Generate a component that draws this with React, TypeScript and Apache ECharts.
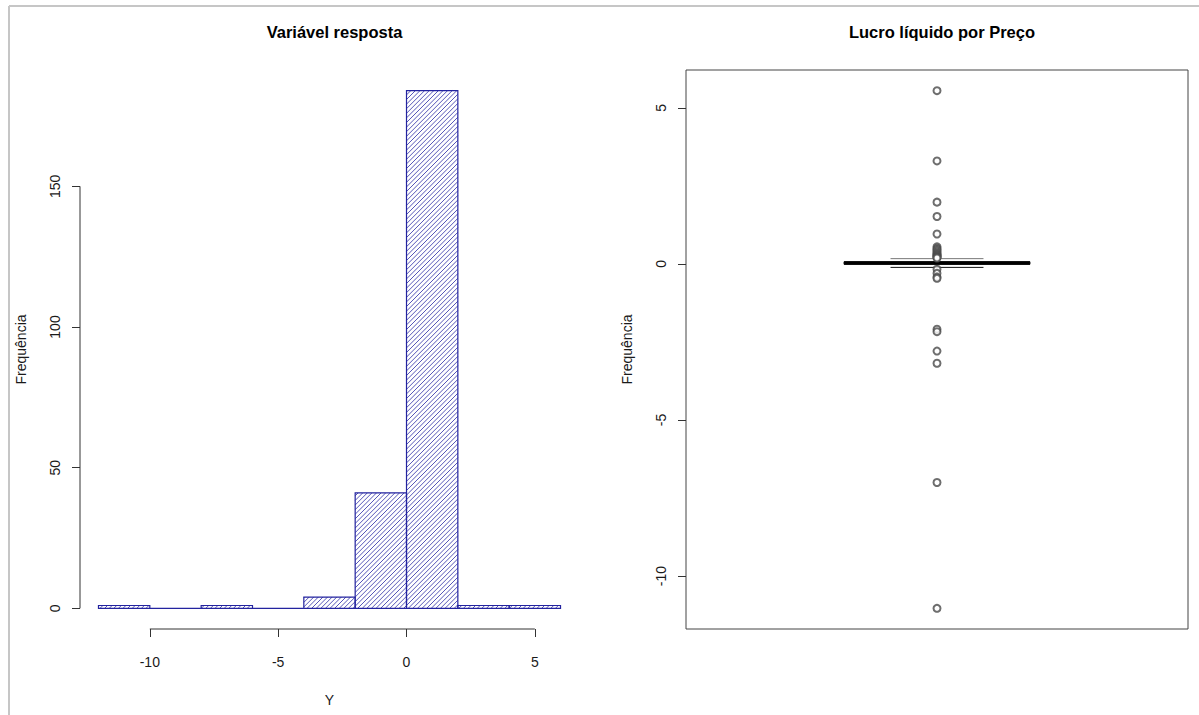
import React, { useEffect, useRef } from "react";
import * as echarts from "echarts";

// ---------- data ----------
const binStarts = [-12, -10, -8, -6, -4, -2, 0, 2, 4];
const binWidth = 2;
const binCounts = [1, 0, 1, 0, 4, 41, 184, 1, 1];
const histXTicks = [-10, -5, 0, 5];
const histYTicks = [0, 50, 100, 150];

// lower whisker, Q1, median, Q3, upper whisker
const boxFive = [-0.11, -0.01, 0.03, 0.07, 0.17];
const outliers = [
  5.55, 3.3, 1.98, 1.52, 0.96, 0.55, 0.5, 0.46, 0.42, 0.38, 0.34, 0.31, 0.28, 0.25, 0.23, 0.21, 0.19,
  -0.17, -0.3, -0.42, -0.46, -2.09, -2.17, -2.79, -3.18, -7.0, -11.03,
];
const boxYTicks = [-10, -5, 0, 5];

const FONT = "'Liberation Sans', Arial, Helvetica, sans-serif";

function ext(minV: number, maxV: number) {
  const r = maxV - minV;
  return [minV - 0.04 * r, maxV + 0.04 * r];
}

export default function App() {
  const ref = useRef<HTMLDivElement>(null);

  useEffect(() => {
    if (!ref.current) return;
    const chart = echarts.init(ref.current, null, { renderer: "svg" });

    const [hxMin, hxMax] = ext(binStarts[0], binStarts[binStarts.length - 1] + binWidth);
    const [hyMin, hyMax] = ext(0, Math.max(...binCounts));
    const allBox = [...boxFive, ...outliers];
    const [byMin, byMax] = ext(Math.min(...allBox), Math.max(...allBox));

    const histData = binStarts.map((s, i) => [s, s + binWidth, binCounts[i]]);

    const hatchStep = 4.6;
    const histRender = (params: any, api: any) => {
      const x0 = api.value(0);
      const x1 = api.value(1);
      const c = api.value(2);
      const pA = api.coord([x0, 0]);
      const pB = api.coord([x1, c]);
      const left = pA[0];
      const right = pB[0];
      const bottom = pA[1];
      const top = pB[1];
      const children: any[] = [];
      const kStart = Math.ceil((left + top) / hatchStep);
      const kEnd = Math.floor((right + bottom) / hatchStep);
      for (let k = kStart; k <= kEnd; k++) {
        const cc = k * hatchStep;
        const xa = Math.max(left, cc - bottom);
        const xb = Math.min(right, cc - top);
        if (xb > xa) {
          children.push({
            type: "line",
            shape: { x1: xa, y1: cc - xa, x2: xb, y2: cc - xb },
            style: { stroke: "#5656b8", lineWidth: 1 },
          });
        }
      }
      children.push({
        type: "rect",
        shape: { x: left, y: top, width: right - left, height: bottom - top },
        style: { fill: "none", stroke: "#23239f", lineWidth: 1.2 },
      });
      return { type: "group", children };
    };

    const boxHalf = 0.2;
    const stapleHalf = 0.1;
    const boxRender = (params: any, api: any) => {
      const x = api.value(0);
      const lo = api.value(1);
      const q1 = api.value(2);
      const med = api.value(3);
      const q3 = api.value(4);
      const hi = api.value(5);
      const tl = api.coord([x - boxHalf, q3]);
      const br = api.coord([x + boxHalf, q1]);
      const mL = api.coord([x - boxHalf, med]);
      const mR = api.coord([x + boxHalf, med]);
      const cHi = api.coord([x, hi]);
      const cQ3 = api.coord([x, q3]);
      const cLo = api.coord([x, lo]);
      const cQ1 = api.coord([x, q1]);
      const sHiL = api.coord([x - stapleHalf, hi]);
      const sHiR = api.coord([x + stapleHalf, hi]);
      const sLoL = api.coord([x - stapleHalf, lo]);
      const sLoR = api.coord([x + stapleHalf, lo]);
      const st = { stroke: "#111", lineWidth: 1 };
      return {
        type: "group",
        children: [
          { type: "line", shape: { x1: cQ3[0], y1: cQ3[1], x2: cHi[0], y2: cHi[1] }, style: { ...st, lineDash: [4, 3] } },
          { type: "line", shape: { x1: cQ1[0], y1: cQ1[1], x2: cLo[0], y2: cLo[1] }, style: { ...st, lineDash: [4, 3] } },
          { type: "line", shape: { x1: sHiL[0], y1: sHiL[1], x2: sHiR[0], y2: sHiR[1] }, style: { stroke: "#777", lineWidth: 1 } },
          { type: "line", shape: { x1: sLoL[0], y1: sLoL[1], x2: sLoR[0], y2: sLoR[1] }, style: st },
          {
            type: "rect",
            shape: { x: tl[0], y: tl[1], width: br[0] - tl[0], height: br[1] - tl[1] },
            style: { fill: "#fff", stroke: "#111", lineWidth: 1 },
          },
          { type: "line", shape: { x1: mL[0], y1: mL[1], x2: mR[0], y2: mR[1] }, style: { stroke: "#000", lineWidth: 3.5 } },
        ],
      };
    };

    const tickLabel = { fontSize: 14, color: "#1a1a1a", fontFamily: FONT };
    const axisTitle = { fontSize: 14, color: "#1a1a1a", fontFamily: FONT };

    chart.setOption({
      animation: false,
      backgroundColor: "#fff",
      textStyle: { fontFamily: FONT },
      title: [
        {
          text: "Variável resposta",
          left: 329.5,
          top: 18,
          textAlign: "center",
          textStyle: { fontSize: 16.5, fontWeight: "bold", color: "#000", fontFamily: FONT },
        },
        {
          text: "Lucro líquido por Preço",
          left: 937,
          top: 18,
          textAlign: "center",
          textStyle: { fontSize: 16.5, fontWeight: "bold", color: "#000", fontFamily: FONT },
        },
      ],
      graphic: [
        { type: "line", shape: { x1: 9, y1: 6, x2: 1199, y2: 6 }, style: { stroke: "#c6c6c6", lineWidth: 2 }, silent: true },
        { type: "line", shape: { x1: 9, y1: 6, x2: 9, y2: 715 }, style: { stroke: "#c6c6c6", lineWidth: 2 }, silent: true },
      ],
      grid: [
        { left: 80, top: 70, width: 499, height: 559, show: false },
        { left: 686, top: 70, width: 502, height: 559, show: true, borderColor: "#444", borderWidth: 1, backgroundColor: "transparent" },
      ],
      xAxis: [
        {
          type: "value",
          gridIndex: 0,
          position: "bottom",
          min: hxMin,
          max: hxMax,
          axisLine: { show: false, onZero: false },
          splitLine: { show: false },
          axisTick: { show: true, customValues: histXTicks, length: 8, lineStyle: { color: "#333" } },
          axisLabel: { customValues: histXTicks, margin: 26, ...tickLabel },
          name: "Y",
          nameLocation: "middle",
          nameGap: 64,
          nameTextStyle: axisTitle,
        },
        {
          type: "value",
          gridIndex: 1,
          min: 0.46,
          max: 1.54,
          show: false,
          axisLine: { onZero: false },
        },
      ],
      yAxis: [
        {
          type: "value",
          gridIndex: 0,
          position: "left",
          min: hyMin,
          max: hyMax,
          axisLine: { show: false, onZero: false },
          splitLine: { show: false },
          axisTick: { show: true, customValues: histYTicks, length: 8, lineStyle: { color: "#333" } },
          axisLabel: { customValues: histYTicks, rotate: 90, margin: 18, ...tickLabel },
          name: "Frequência",
          nameLocation: "middle",
          nameRotate: 90,
          nameGap: 52,
          nameTextStyle: axisTitle,
        },
        {
          type: "value",
          gridIndex: 1,
          position: "left",
          min: byMin,
          max: byMax,
          axisLine: { show: false, onZero: false },
          splitLine: { show: false },
          axisTick: { show: true, customValues: boxYTicks, length: 8, lineStyle: { color: "#333" } },
          axisLabel: { customValues: boxYTicks, rotate: 90, margin: 18, ...tickLabel },
          name: "Frequência",
          nameLocation: "middle",
          nameRotate: 90,
          nameGap: 52,
          nameTextStyle: axisTitle,
        },
      ],
      series: [
        {
          type: "custom",
          xAxisIndex: 0,
          yAxisIndex: 0,
          renderItem: histRender,
          data: histData,
          encode: { x: [0, 1], y: 2 },
          silent: true,
          clip: false,
        },
        {
          type: "line",
          xAxisIndex: 0,
          yAxisIndex: 0,
          data: [
            [hxMin, histYTicks[0]],
            [hxMin, histYTicks[histYTicks.length - 1]],
          ],
          symbol: "none",
          lineStyle: { color: "#333", width: 1 },
          silent: true,
          clip: false,
        },
        {
          type: "line",
          xAxisIndex: 0,
          yAxisIndex: 0,
          data: [
            [histXTicks[0], hyMin],
            [histXTicks[histXTicks.length - 1], hyMin],
          ],
          symbol: "none",
          lineStyle: { color: "#333", width: 1 },
          silent: true,
          clip: false,
        },
        {
          type: "custom",
          xAxisIndex: 1,
          yAxisIndex: 1,
          renderItem: boxRender,
          data: [[1, ...boxFive]],
          silent: true,
          clip: false,
        },
        {
          type: "scatter",
          xAxisIndex: 1,
          yAxisIndex: 1,
          data: outliers.map((v) => [1, v]),
          symbol: "emptyCircle",
          symbolSize: 7,
          itemStyle: { color: "#4a4a4a", borderWidth: 0.9 },
          silent: true,
          z: 5,
        },
      ],
    });

    return () => chart.dispose();
  }, []);

  return (
    <div
      ref={ref}
      style={{ position: "fixed", left: 0, top: 0, width: 1199, height: 715, background: "#fff" }}
    />
  );
}
